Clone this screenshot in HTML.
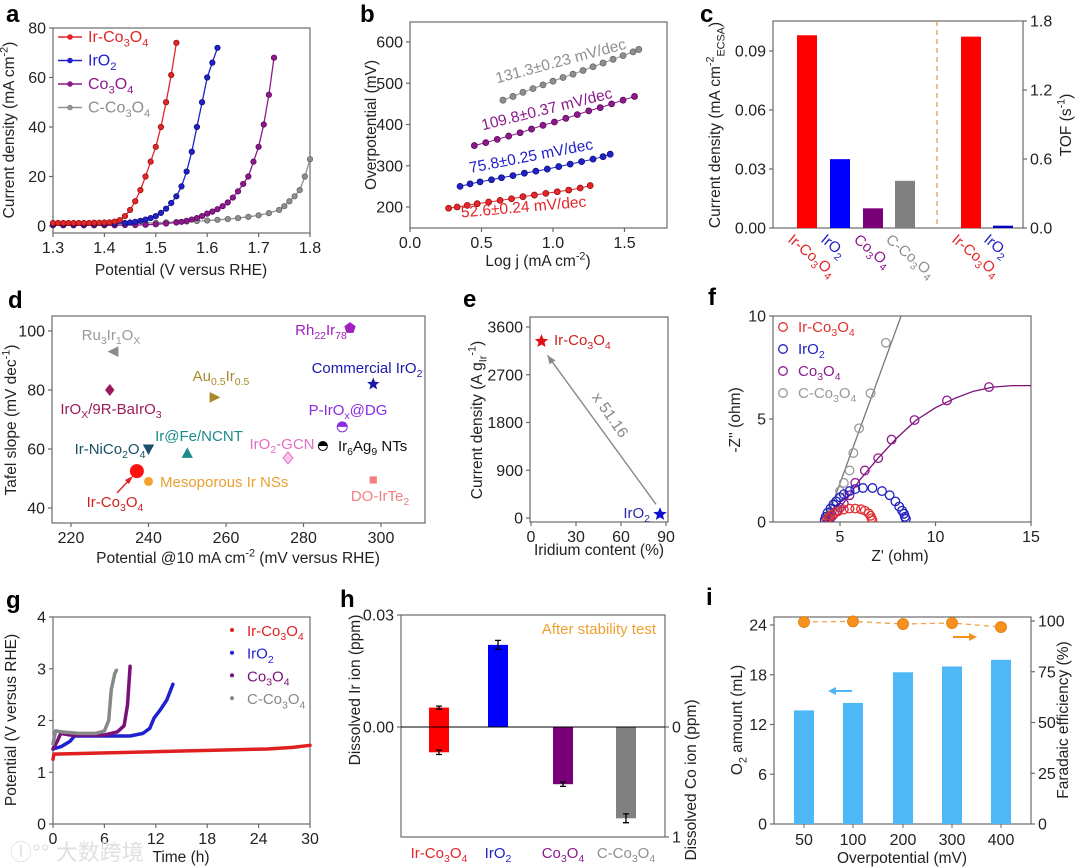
<!DOCTYPE html>
<html><head><meta charset="utf-8">
<style>
html,body{margin:0;padding:0;background:#fff;}
svg{display:block;font-family:"Liberation Sans","Noto Sans CJK SC",sans-serif;}
</style></head>
<body>
<svg id="fig" width="1080" height="867" viewBox="0 0 1080 867"></svg>
<script>
// ---------- DATA ----------
const aV_IrCo=[1.30,1.31,1.32,1.33,1.34,1.35,1.36,1.37,1.38,1.39,1.40,1.41,1.42,1.43,1.44,1.45,1.46,1.47,1.48,1.49,1.50,1.51,1.52,1.53,1.54];
const aJ_IrCo=[1.2,1.2,1.2,1.2,1.2,1.2,1.2,1.2,1.3,1.3,1.4,1.5,1.8,2.4,4,6.5,10,14.5,20,26,32,40,50,61,74];
const aV_IrO2=[1.30,1.32,1.34,1.36,1.38,1.40,1.42,1.44,1.45,1.46,1.47,1.48,1.49,1.50,1.51,1.52,1.53,1.54,1.55,1.56,1.57,1.58,1.59,1.60,1.61,1.62];
const aJ_IrO2=[0.8,0.8,0.8,0.8,0.9,0.9,1.0,1.2,1.4,1.7,2.1,2.6,3.2,4,5.3,7,9.3,12,16,22,30,40,50,60,66,72];
const aV_Co=[1.30,1.32,1.34,1.36,1.38,1.40,1.42,1.44,1.46,1.48,1.50,1.52,1.54,1.55,1.56,1.57,1.58,1.59,1.60,1.61,1.62,1.63,1.64,1.65,1.66,1.67,1.68,1.69,1.70,1.71,1.72,1.73];
const aJ_Co=[0.3,0.3,0.3,0.3,0.3,0.3,0.3,0.4,0.4,0.5,0.7,1.0,1.4,1.7,2.1,2.6,3.2,4,5,5.8,6.8,8,9.5,11.5,14,17,20,26,32,41,53,68];
const aV_C=[1.30,1.32,1.34,1.36,1.38,1.40,1.42,1.44,1.46,1.48,1.50,1.52,1.54,1.56,1.58,1.60,1.62,1.64,1.66,1.68,1.70,1.72,1.74,1.75,1.76,1.77,1.78,1.79,1.80];
const aJ_C=[0.5,0.5,0.6,0.6,0.7,0.8,0.9,1.0,1.1,1.2,1.3,1.5,1.6,1.8,2.0,2.2,2.5,2.8,3.2,3.7,4.3,5.2,6.5,8,10,12,14.5,20,27];
const bX_IrCo=[0.27,0.33,0.40,0.47,0.55,0.63,0.71,0.79,0.87,0.95,1.03,1.11,1.19,1.26];
const bY_IrCo=[197,200,204,208,212,216,220,225,229,233,237,241,246,252];
const bX_IrO2=[0.35,0.42,0.49,0.57,0.64,0.72,0.80,0.88,0.96,1.04,1.12,1.20,1.28,1.35,1.40];
const bY_IrO2=[250,256,261,266,271,276,282,287,292,298,304,310,316,322,328];
const bX_Co=[0.45,0.53,0.61,0.69,0.77,0.85,0.93,1.01,1.09,1.17,1.25,1.33,1.41,1.49,1.57];
const bY_Co=[349,356,364,372,380,389,398,406,415,424,433,441,450,459,468];
const bX_C=[0.65,0.72,0.79,0.86,0.93,1.00,1.07,1.14,1.21,1.28,1.35,1.42,1.49,1.56,1.60];
const bY_C=[459,468,478,487,496,505,514,522,531,540,549,558,567,576,582];
const bSlopes=["131.3±0.23 mV/dec","109.8±0.37 mV/dec","75.8±0.25 mV/dec","52.6±0.24 mV/dec"];
const cCats=["Ir-Co_{3}O_{4}","IrO_{2}","Co_{3}O_{4}","C-Co_{3}O_{4}"];
const cCurrent=[0.098,0.035,0.010,0.024];
const cTofCats=["Ir-Co_{3}O_{4}","IrO_{2}"];
const cTof=[1.664,0.02];
const dNames=["Ru_{3}Ir_{1}O_{X}","IrO_{X}/9R-BaIrO_{3}","Au_{0.5}Ir_{0.5}","Rh_{22}Ir_{78}","Commercial IrO_{2}","P-IrO_{x}@DG","Ir_{6}Ag_{9} NTs","IrO_{2}-GCN","Ir@Fe/NCNT","Ir-NiCo_{2}O_{4}","Ir-Co_{3}O_{4}","Mesoporous Ir NSs","DO-IrTe_{2}"];
const dX=[231,230,257,292,298,290,285,276,250,240,237,240,298];
const dY=[93,80,77.5,101,82,67.5,61,57,58.5,60,52.5,49,49.5];
const eContent=[7,86];
const eCurrent=[3330,70];
const fX_IrCo=[4.3,4.4,4.5,4.7,4.9,5.2,5.5,5.8,6.1,6.3,6.5,6.6,6.65,6.7];
const fY_IrCo=[0.1,0.2,0.3,0.42,0.52,0.6,0.65,0.65,0.62,0.55,0.42,0.3,0.18,0.08];
const fX_IrO2=[4.2,4.25,4.35,4.5,4.65,4.8,5.0,5.2,5.5,5.8,6.2,6.7,7.2,7.6,7.9,8.1,8.25,8.35,8.4,8.45];
const fY_IrO2=[0.1,0.25,0.45,0.65,0.85,1.0,1.2,1.35,1.5,1.6,1.65,1.65,1.5,1.3,1.0,0.75,0.55,0.4,0.25,0.15];
const fX_Co=[4.4,4.5,4.6,4.7,4.85,5.0,5.2,5.5,5.8,6.3,7.0,7.7,8.9,10.6,12.8];
const fY_Co=[0.1,0.2,0.3,0.4,0.55,0.7,0.9,1.3,1.9,2.5,3.1,4.0,4.95,5.9,6.55];
const fFitX_Co=[4.4,5,5.5,6,7,8,9,10,11,12,13,14,15];
const fFitY_Co=[0.1,0.7,1.3,2,3.1,4.1,4.95,5.55,6.0,6.35,6.55,6.62,6.62];
const fX_C=[4.3,4.4,4.5,4.6,4.7,4.8,5.0,5.2,5.5,5.7,6.0,6.6,7.4];
const fY_C=[0.15,0.3,0.45,0.6,0.8,1.0,1.5,1.9,2.5,3.35,4.55,6.25,8.7];
const fFitX_C=[4.3,8.2];
const fFitY_C=[0.1,10];
const gT_IrCo=[0,0.1,5,10,15,20,25,28,30];
const gV_IrCo=[1.25,1.35,1.37,1.39,1.41,1.43,1.45,1.48,1.52];
const gT_IrO2=[0,1,2,2.5,6,9,10.5,11.3,11.8,12.5,13.3,14];
const gV_IrO2=[1.45,1.5,1.6,1.7,1.7,1.7,1.75,1.85,2.05,2.2,2.4,2.7];
const gT_Co=[0,0.5,0.9,2,6,7.5,8.3,8.7,9];
const gV_Co=[1.45,1.6,1.75,1.72,1.72,1.78,1.9,2.3,3.05];
const gT_C=[0,0.3,1,3,5,6,6.5,6.8,7.2,7.4];
const gV_C=[1.55,1.8,1.78,1.75,1.75,1.8,2.0,2.6,2.9,2.97];
const hCats=["Ir-Co_{3}O_{4}","IrO_{2}","Co_{3}O_{4}","C-Co_{3}O_{4}"];
const hIr=[0.0052,0.022,0,0];
const hIrErr=[0.0004,0.0012,0,0];
const hCo=[0.23,0,0.52,0.83];
const hCoErr=[0.02,0,0.02,0.04];
const iCats=["50","100","200","300","400"];
const iO2=[13.7,14.6,18.3,19.0,19.8];
const iFE=[99.5,99.8,98.5,99,97];

// ---------- HELPERS ----------
const NS='http://www.w3.org/2000/svg';
const svg=document.getElementById('fig');
function mk(tag,attrs,parent){const e=document.createElementNS(NS,tag);for(const k in attrs)e.setAttribute(k,attrs[k]);parent.appendChild(e);return e;}
function lin(d0,d1,p0,p1){return v=>p0+(v-d0)*(p1-p0)/(d1-d0);}
function rich(t,s){
  const fs=parseFloat(t.getAttribute('font-size'))||14;
  const re=/_\{([^}]*)\}|\^\{([^}]*)\}/g;let last=0,m,cur=0;
  function sp(str,kind){
    const e=document.createElementNS(NS,'tspan');e.textContent=str;
    const target=kind>0?fs*0.28:(kind<0?-fs*0.42:0);
    const d=target-cur;
    if(Math.abs(d)>0.01)e.setAttribute('dy',d.toFixed(2));
    cur=target;
    if(kind)e.setAttribute('font-size',(fs*0.7).toFixed(1));
    t.appendChild(e);
  }
  while((m=re.exec(s))){if(m.index>last)sp(s.slice(last,m.index),0);if(m[1]!==undefined)sp(m[1],1);else sp(m[2],-1);last=re.lastIndex;}
  if(last<s.length)sp(s.slice(last),0);
}
function T(g,x,y,s,name,opts){
  const t=mk('text',Object.assign({x:x,y:y,'font-size':15.5,fill:'#222'},opts||{}),g);
  rich(t,s);
  
  
  return t;
}
function VT(g,x,y,s,name,opts){return T(g,x,y,s,name,Object.assign({'text-anchor':'middle',transform:'rotate(-90 '+x+' '+y+')'},opts||{}));}
function panel(name){
  const g=mk('g',{},svg);
  
  
  return g;
}
function frame(g,x0,y0,x1,y1){
  const r=mk('rect',{x:x0,y:y0,width:x1-x0,height:y1-y0,fill:'none',stroke:'#6a6a6a','stroke-width':1.2},g);
  
  
}
function xt(g,sc,vals,labels,yb){
  vals.forEach((v,i)=>{
    const x=sc(v);
    const l=mk('line',{x1:x,x2:x,y1:yb,y2:yb+4,stroke:'#6a6a6a','stroke-width':1.2},g);
    
    
    if(labels[i]!==''){T(g,x,yb+20,labels[i],'x-tick-label',{'text-anchor':'middle','font-size':16});}
  });
}
function yt(g,sc,vals,labels,x,side){
  vals.forEach((v,i)=>{
    const y=sc(v);
    const l=mk('line',{x1:x,x2:x+4*side,y1:y,y2:y,stroke:'#6a6a6a','stroke-width':1.2},g);
    
    
    T(g,x+7*side,y+5.5,labels[i],'y-tick-label',{'text-anchor':side<0?'end':'start','font-size':16});
  });
}
function poly(g,xs,ys,X,Y,color,w,name,dash){
  const pts=X.map((v,i)=>xs(v).toFixed(1)+','+ys(Y[i]).toFixed(1)).join(' ');
  const p=mk('polyline',{points:pts,fill:'none',stroke:color,'stroke-width':w,'stroke-linejoin':'round','stroke-linecap':'round'},g);
  if(dash)p.setAttribute('stroke-dasharray',dash);
  
  
  return p;
}
function dots(g,xs,ys,X,Y,fill,stroke,r,name,open){
  X.forEach((v,i)=>{
    const c=mk('circle',{cx:xs(v),cy:ys(Y[i]),r:r,fill:open?'none':fill,stroke:stroke,'stroke-width':open?1.3:0.8},g);
    
    
  });
}
function label(g,x,y,s){T(g,x,y,s,'panel-label',{'font-size':24,'font-weight':'bold',fill:'#000'});}
const RED='#e3262a',BLUE='#2121c9',PUR='#8c1a8c',GRAY='#8f8f8f';

// ---------- PANEL A ----------
(function(){
  const g=panel('panel-a-lsv');
  const xs=lin(1.3,1.8,53,310), ys=lin(0,80,226,28);
  label(g,6,22,'a');
  frame(g,53,28,310,233);
  xt(g,xs,[1.3,1.4,1.5,1.6,1.7,1.8],['1.3','1.4','1.5','1.6','1.7','1.8'],233);
  yt(g,ys,[0,20,40,60,80],['0','20','40','60','80'],53,-1);
  const S=[[aV_C,aJ_C,GRAY,'#666','c-co3o4'],[aV_Co,aJ_Co,PUR,'#5a0a5a','co3o4'],[aV_IrO2,aJ_IrO2,BLUE,'#10107a','iro2'],[aV_IrCo,aJ_IrCo,RED,'#9a1010','ir-co3o4']];
  S.forEach(s=>{poly(g,xs,ys,s[0],s[1],s[2],1.3,'line-'+s[4]);dots(g,xs,ys,s[0],s[1],s[2],s[3],2.7,'point-'+s[4]);});
  const leg=[['Ir-Co_{3}O_{4}',RED],['IrO_{2}',BLUE],['Co_{3}O_{4}',PUR],['C-Co_{3}O_{4}',GRAY]];
  leg.forEach((L,i)=>{
    const y=37+i*23.5;
    const l=mk('line',{x1:58,x2:82,y1:y,y2:y,stroke:L[1],'stroke-width':1.5},g);
    
    
    const c=mk('circle',{cx:70,cy:y,r:2.8,fill:L[1]},g);
    
    
    T(g,88,y+5,L[0],'legend-entry',{fill:L[1],'font-size':16});
  });
  VT(g,14,130,'Current density (mA cm^{-2})','y-axis-title');
  T(g,181,275,'Potential (V versus RHE)','x-axis-title',{'text-anchor':'middle'});
})();

// ---------- PANEL B ----------
(function(){
  const g=panel('panel-b-tafel');
  const xs=lin(0,0.5,410,481.5), ys=lin(200,600,207,42);
  label(g,360,22,'b');
  frame(g,410,22,667,228);
  xt(g,xs,[0,0.5,1.0,1.5],['0.0','0.5','1.0','1.5'],228);
  yt(g,ys,[200,300,400,500,600],['200','300','400','500','600'],410,-1);
  const S=[[bX_C,bY_C,GRAY,'#666','c-co3o4'],[bX_Co,bY_Co,PUR,'#5a0a5a','co3o4'],[bX_IrO2,bY_IrO2,BLUE,'#10107a','iro2'],[bX_IrCo,bY_IrCo,RED,'#9a1010','ir-co3o4']];
  S.forEach(s=>{poly(g,xs,ys,s[0],s[1],s[2],1,'fit-'+s[4]);dots(g,xs,ys,s[0],s[1],s[2],s[3],3,'point-'+s[4]);});
  T(g,562,66,bSlopes[0],'slope-label-c-co3o4',{'text-anchor':'middle',fill:GRAY,transform:'rotate(-15 562 66)'});
  T(g,548,114,bSlopes[1],'slope-label-co3o4',{'text-anchor':'middle',fill:PUR,transform:'rotate(-14 548 114)'});
  T(g,532,161,bSlopes[2],'slope-label-iro2',{'text-anchor':'middle',fill:BLUE,transform:'rotate(-11 532 161)'});
  T(g,524,212,bSlopes[3],'slope-label-ir-co3o4',{'text-anchor':'middle',fill:RED,transform:'rotate(-5 524 212)'});
  VT(g,376,125,'Overpotential (mV)','y-axis-title');
  T(g,538,266,'Log j (mA cm^{-2})','x-axis-title',{'text-anchor':'middle'});
})();

// ---------- PANEL C ----------
(function(){
  const g=panel('panel-c-bars');
  const ys=lin(0,0.09,228,51), ysR=lin(0,1.8,228,21);
  const cx=[807,840,873,905], cxT=[971,1003];
  const cols=['#ff0000','#0000ff','#7a007a','#808080'], tcols=[RED,BLUE,PUR,GRAY];
  label(g,700,22,'c');
  frame(g,773,21,1023,228);
  yt(g,ys,[0,0.03,0.06,0.09],['0.00','0.03','0.06','0.09'],773,-1);
  yt(g,ysR,[0,0.6,1.2,1.8],['0.0','0.6','1.2','1.8'],1023,1);
  const dl=mk('line',{x1:937,x2:937,y1:21,y2:228,stroke:'#d49a3a','stroke-width':1.2,'stroke-dasharray':'5,4'},g);
  
  
  cCurrent.forEach((v,i)=>{
    const r=mk('rect',{x:cx[i]-10,y:ys(v),width:20,height:228-ys(v),fill:cols[i]},g);
    
    
    T(g,cx[i]-20,241,cCats[i],'category-label',{fill:tcols[i],'font-size':15,transform:'rotate(40 '+(cx[i]-20)+' 241)'});
  });
  cTof.forEach((v,i)=>{
    const r=mk('rect',{x:cxT[i]-10,y:ysR(v),width:20,height:228-ysR(v),fill:i?'#0000c0':'#ff0000'},g);
    
    
    T(g,cxT[i]-20,241,cTofCats[i],'category-label',{fill:i?BLUE:RED,'font-size':15,transform:'rotate(40 '+(cxT[i]-20)+' 241)'});
  });
  VT(g,720,125,'Current density (mA cm^{-2}_{ECSA})','y-axis-title');
  VT(g,1071,125,'TOF (s^{-1})','y-axis-title-right');
})();

// ---------- PANEL D ----------
function shape(g,type,x,y,s,color){
  let e;
  const P=a=>a.map(p=>(x+p[0]*s).toFixed(1)+','+(y+p[1]*s).toFixed(1)).join(' ');
  if(type==='circle'){e=mk('circle',{cx:x,cy:y,r:s,fill:color},g);}
  else if(type==='square'){e=mk('rect',{x:x-s*0.8,y:y-s*0.8,width:1.6*s,height:1.6*s,fill:color},g);}
  else if(type==='half'){e=mk('g',{},g);mk('circle',{cx:x,cy:y,r:s,fill:'#fff',stroke:color,'stroke-width':1},e);mk('path',{d:'M'+(x-s)+','+y+' A'+s+','+s+' 0 0 1 '+(x+s)+','+y+' Z',fill:color},e);}
  else if(type==='star'){const pts=[];for(let k=0;k<10;k++){const a=-Math.PI/2+k*Math.PI/5,r=k%2?0.45:1;pts.push([r*Math.cos(a),r*Math.sin(a)]);}e=mk('polygon',{points:P(pts),fill:color},g);}
  else if(type==='pent'){const pts=[];for(let k=0;k<5;k++){const a=-Math.PI/2+k*2*Math.PI/5;pts.push([Math.cos(a),Math.sin(a)]);}e=mk('polygon',{points:P(pts),fill:color},g);}
  else{const m={left:[[-1,0],[0.8,-0.9],[0.8,0.9]],right:[[1,0],[-0.8,-0.9],[-0.8,0.9]],up:[[0,-1],[-0.95,0.75],[0.95,0.75]],down:[[0,1],[-0.95,-0.75],[0.95,-0.75]],diamond:[[0,-1],[0.8,0],[0,1],[-0.8,0]],odiamond:[[0,-1],[0.8,0],[0,1],[-0.8,0]]};
    e=mk('polygon',{points:P(m[type]),fill:type==='odiamond'?'#f7c8ee':color,stroke:type==='odiamond'?color:'none','stroke-width':1},g);}
  return e;
}
(function(){
  const g=panel('panel-d-comparison');
  const xs=lin(220,300,71,381), ys=lin(40,100,508,331);
  label(g,8,308,'d');
  frame(g,52,316,425,523);
  xt(g,xs,[220,240,260,280,300],['220','240','260','280','300'],523);
  yt(g,ys,[40,60,80,100],['40','60','80','100'],52,-1);
  const shapes=['left','diamond','right','pent','star','half','half','odiamond','up','down','circle','circle','square'];
  const colors=['#8a8a8a','#9b1b5a','#a68a2a','#a020c0','#1a1aa8','#8a2be2','#000','#e070c0','#1e8a8a','#1a4f6a','#ff1010','#f5a030','#f08080'];
  const sizes=[6,6,6,6,6.5,5,4.5,6,6,6,7,4.5,4.5];
  const lx=[111,111,221,321,367,348,338,282,199,110,115,160,380];
  const ly=[340,414,381,335,373,415,451,449,441,454,507,487,501];
  const anc=['middle','middle','middle','middle','middle','middle','start','middle','middle','middle','middle','start','middle'];
  const tcol=['#999','#9b1b5a','#a68a2a','#a020c0','#1a1aa8','#8a2be2','#111','#e070c0','#1e8a8a','#1a4f6a','#d02020','#e8a030','#f08080'];
  dX.forEach((v,i)=>{
    const e=shape(g,shapes[i],xs(v),ys(dY[i]),sizes[i],colors[i]);
    
    
    T(g,lx[i],ly[i],dNames[i],'point-label',{'text-anchor':anc[i],fill:tcol[i],'font-size':15});
  });
  const ar=mk('line',{x1:117,y1:493,x2:131,y2:478,stroke:'#e02020','stroke-width':1.4},g);
  
  
  const ah=mk('polygon',{points:'133,476 125,480 129,484',fill:'#e02020'},g);
  
  
  VT(g,16,420,'Tafel slope (mV dec^{-1})','y-axis-title');
  T(g,238,563,'Potential @10 mA cm^{-2} (mV versus RHE)','x-axis-title',{'text-anchor':'middle'});
})();

// ---------- PANEL E ----------
(function(){
  const g=panel('panel-e-mass-activity');
  const xs=lin(0,30,531,576), ys=lin(0,3600,518,327);
  label(g,463,307,'e');
  frame(g,530,317,668,522);
  xt(g,xs,[0,30,60,90],['0','30','60','90'],522);
  yt(g,ys,[0,900,1800,2700,3600],['0','900','1800','2700','3600'],530,-1);
  const ar=mk('line',{x1:xs(eContent[1])-4,y1:ys(eCurrent[1])-10,x2:xs(eContent[0])+6,y2:ys(eCurrent[0])+14,stroke:'#888','stroke-width':1.4},g);
  
  
  const x2=xs(eContent[0])+6,y2=ys(eCurrent[0])+14;
  const ah=mk('polygon',{points:x2+','+y2+' '+(x2+2)+','+(y2+9)+' '+(x2+8)+','+(y2+5),fill:'#888'},g);
  
  
  const cols=['#e01010','#1010d0'];
  eContent.forEach((v,i)=>{
    const s=shape(g,'star',xs(v),ys(eCurrent[i]),7,cols[i]);
    
    
  });
  T(g,554,345,'Ir-Co_{3}O_{4}','point-label',{fill:'#d02020','font-size':15});
  T(g,650,518,'IrO_{2}','point-label',{fill:'#2a2aa8','font-size':15,'text-anchor':'end'});
  T(g,606,418,'x 51.16','ratio-label',{fill:'#888','text-anchor':'middle',transform:'rotate(55 606 418)'});
  VT(g,482,420,'Current density (A g_{Ir}^{-1})','y-axis-title');
  T(g,599,555,'Iridium content (%)','x-axis-title',{'text-anchor':'middle'});
})();

// ---------- PANEL F ----------
(function(){
  const g=panel('panel-f-nyquist');
  const xs=lin(5,15,840,1031), ys=lin(0,10,522,316);
  label(g,708,305,'f');
  const cp=mk('clipPath',{id:'clipf'},g);
  mk('rect',{x:773,y:316,width:258,height:206},cp);
  frame(g,773,316,1031,522);
  xt(g,xs,[5,10,15],['5','10','15'],522);
  yt(g,ys,[0,5,10],['0','5','10'],773,-1);
  const cg=mk('g',{'clip-path':'url(#clipf)'},g);
  
  
  poly(cg,xs,ys,fFitX_C,fFitY_C,'#777',1.3,'fit-c-co3o4');
  poly(cg,xs,ys,fFitX_Co,fFitY_Co,'#7a107a',1.3,'fit-co3o4');
  dots(cg,xs,ys,fX_C,fY_C,'none','#999',4.3,'point-c-co3o4',true);
  dots(cg,xs,ys,fX_Co,fY_Co,'none',PUR,4.3,'point-co3o4',true);
  dots(cg,xs,ys,fX_IrO2,fY_IrO2,'none','#2020c0',4.3,'point-iro2',true);
  dots(cg,xs,ys,fX_IrCo,fY_IrCo,'none','#e03030',4.3,'point-ir-co3o4',true);
  const leg=[['Ir-Co_{3}O_{4}','#e03030'],['IrO_{2}','#2020c0'],['Co_{3}O_{4}',PUR],['C-Co_{3}O_{4}','#999']];
  leg.forEach((L,i)=>{
    const y=327+i*22;
    const c=mk('circle',{cx:783,cy:y,r:4.3,fill:'none',stroke:L[1],'stroke-width':1.3},g);
    
    
    T(g,798,y+5,L[0],'legend-entry',{fill:L[1],'font-size':15});
  });
  VT(g,740,420,'-Z\'\' (ohm)','y-axis-title');
  T(g,900,561,'Z\' (ohm)','x-axis-title',{'text-anchor':'middle'});
})();

// ---------- PANEL G ----------
(function(){
  const g=panel('panel-g-stability');
  const xs=lin(0,30,53,310), ys=lin(0,4,824,617);
  label(g,6,608,'g');
  frame(g,53,617,310,824);
  xt(g,xs,[0,6,12,18,24,30],['0','6','12','18','24','30'],824);
  yt(g,ys,[0,1,2,3,4],['0','1','2','3','4'],53,-1);
  poly(g,xs,ys,gT_IrO2,gV_IrO2,'#2020d0',3.5,'line-iro2');
  poly(g,xs,ys,gT_Co,gV_Co,'#7a107a',3.5,'line-co3o4');
  poly(g,xs,ys,gT_C,gV_C,'#888',3.5,'line-c-co3o4');
  poly(g,xs,ys,gT_IrCo,gV_IrCo,'#e02020',3.5,'line-ir-co3o4');
  const leg=[['Ir-Co_{3}O_{4}','#e02020'],['IrO_{2}','#2020d0'],['Co_{3}O_{4}','#7a107a'],['C-Co_{3}O_{4}','#888']];
  leg.forEach((L,i)=>{
    const y=630+i*22.7;
    const c=mk('circle',{cx:232,cy:y,r:2,fill:L[1]},g);
    
    
    T(g,247,y+6,L[0],'legend-entry',{fill:L[1],'font-size':15});
  });
  VT(g,16,720,'Potential (V versus RHE)','y-axis-title');
  T(g,181,862,'Time (h)','x-axis-title',{'text-anchor':'middle'});
  T(g,10,860,'\u24db\u00b0\u00b0 大数跨境','watermark',{fill:'#dcdcdc','font-size':22,opacity:0.9});
})();

// ---------- PANEL H ----------
(function(){
  const g=panel('panel-h-dissolution');
  const ys=lin(0,0.03,727,615), ysR=lin(0,1,727,837);
  const cx=[439,498,563,626];
  const cols=['#ff0000','#0000ff','#7a007a','#808080'], tcols=[RED,BLUE,PUR,GRAY];
  label(g,340,607,'h');
  frame(g,401,615,665,837);
  yt(g,ys,[0.03,0],['0.03','0.00'],401,-1);
  yt(g,ysR,[0,1],['0','1'],665,1);
  cx.forEach((x,i)=>{
    const top=hIr[i]>0?ys(hIr[i]):727, bot=hCo[i]>0?ysR(hCo[i]):727;
    const r=mk('rect',{x:x-10,y:top,width:20,height:bot-top,fill:cols[i]},g);
    
    
    if(hIr[i]>0){
      const e=mk('path',{d:'M'+x+','+ys(hIr[i]+hIrErr[i])+'V'+ys(hIr[i]-hIrErr[i])+'M'+(x-3)+','+ys(hIr[i]+hIrErr[i])+'h6M'+(x-3)+','+ys(hIr[i]-hIrErr[i])+'h6',stroke:'#000','stroke-width':1.3,fill:'none'},g);
      
      
    }
    if(hCo[i]>0){
      const e=mk('path',{d:'M'+x+','+ysR(hCo[i]-hCoErr[i])+'V'+ysR(hCo[i]+hCoErr[i])+'M'+(x-3)+','+ysR(hCo[i]-hCoErr[i])+'h6M'+(x-3)+','+ysR(hCo[i]+hCoErr[i])+'h6',stroke:'#000','stroke-width':1.3,fill:'none'},g);
      
      
    }
    T(g,x,858,hCats[i],'category-label',{'text-anchor':'middle',fill:tcols[i],'font-size':15});
  });
  const zl=mk('line',{x1:401,x2:665,y1:727,y2:727,stroke:'#000','stroke-width':1},g);
  
  
  T(g,656,634,'After stability test','annotation',{'text-anchor':'end',fill:'#f0a030','font-size':15});
  VT(g,360,690,'Dissolved Ir ion (ppm)','y-axis-title');
  VT(g,696,780,'Dissolved Co ion (ppm)','y-axis-title-right');
})();

// ---------- PANEL I ----------
(function(){
  const g=panel('panel-i-faradaic');
  const ys=lin(0,24,824,625), ysR=lin(0,100,824,621);
  const cx=[804,853,903,952,1001];
  label(g,706,605,'i');
  frame(g,774,617,1031,824);
  yt(g,ys,[0,6,12,18,24],['0','6','12','18','24'],774,-1);
  yt(g,ysR,[0,25,50,75,100],['0','25','50','75','100'],1031,1);
  iO2.forEach((v,i)=>{
    const r=mk('rect',{x:cx[i]-10,y:ys(v),width:20,height:824-ys(v),fill:'#4db8f5'},g);
    
    
    const t=mk('line',{x1:cx[i],x2:cx[i],y1:824,y2:828,stroke:'#6a6a6a'},g);
    
    
    T(g,cx[i],845,iCats[i],'x-tick-label',{'text-anchor':'middle','font-size':16});
  });
  const pts=iFE.map((v,i)=>cx[i]+','+ysR(v).toFixed(1)).join(' ');
  const dl=mk('polyline',{points:pts,fill:'none',stroke:'#f0a050','stroke-width':1.3,'stroke-dasharray':'5,4'},g);
  
  
  iFE.forEach((v,i)=>{
    const c=mk('circle',{cx:cx[i],cy:ysR(v),r:5.5,fill:'#f7901e',stroke:'#e07a00','stroke-width':0.8},g);
    
    
  });
  const a1=mk('path',{d:'M852,691H834',stroke:'#4db8f5','stroke-width':2,fill:'none'},g);
  
  
  const a1h=mk('polygon',{points:'828,691 836,687 836,695',fill:'#4db8f5'},g);
  
  
  const a2=mk('path',{d:'M953,637H971',stroke:'#f7901e','stroke-width':2,fill:'none'},g);
  
  
  const a2h=mk('polygon',{points:'977,637 969,633 969,641',fill:'#f7901e'},g);
  
  
  VT(g,742,720,'O_{2} amount (mL)','y-axis-title');
  VT(g,1068,720,'Faradaic efficiency (%)','y-axis-title-right');
  T(g,902,863,'Overpotential (mV)','x-axis-title',{'text-anchor':'middle'});
})();
</script>
</body></html>
